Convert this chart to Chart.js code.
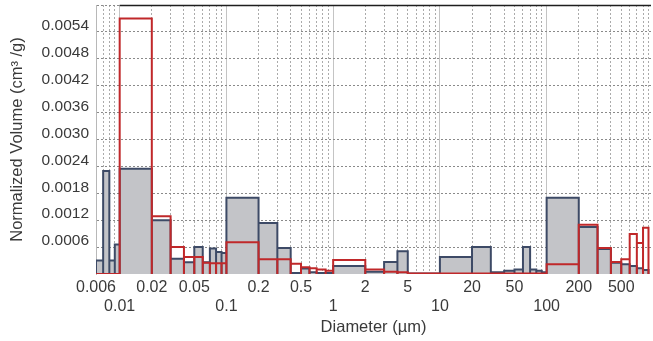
<!DOCTYPE html>
<html>
<head>
<meta charset="utf-8">
<script src="https://cdn.jsdelivr.net/npm/chart.js@4/dist/chart.umd.min.js"></script>
<style>
  html, body { margin: 0; padding: 0; background: #fff; }
  #wrap { width: 653px; height: 341px; }
</style>
</head>
<body>
<div id="wrap"><canvas id="psd" width="653" height="341"></canvas></div>
<script>
// ---- data -------------------------------------------------------------
// bin edges in µm (log spaced, 1-2-3.. per decade)
const binEdges = [
  0.006, 0.007, 0.008, 0.009,
  0.01, 0.02, 0.03, 0.04, 0.05, 0.06, 0.07, 0.08, 0.09,
  0.1, 0.2, 0.3, 0.4, 0.5, 0.6, 0.7, 0.85,
  1, 2, 3, 4, 5,
  10, 20, 30, 40, 50, 60, 70, 80, 90,
  100, 200, 300, 400, 500, 600, 700, 800, 900
];

// grey filled bars (normalized volume, cm3/g)
const greyVolume = [
  0.0003, 0.0023, 0.0003, 0.00066,
  0.00235, 0.0012, 0.00034, 0.00026, 0.0006, 0.00026, 0.00057, 0.00049, 0.00047,
  0.0017, 0.00114, 0.00058, 0.00002, 0.00012, 0.00004, 0.00002, 0.00002,
  0.00018, 0.00005, 0.00027, 0.00051,
  0.00001,
  0.00038, 0.0006, 0.00004, 0.00007, 0.0001, 0.0006, 0.0001, 0.00007, 0.00004,
  0.0017, 0.00105, 0.00056, 0.00025, 0.00022, 0.00018, 0.00013, 0.00009
];

// red outlined bars
const redVolume = [
  0, 0, 0, 0,
  0.0057, 0.00129, 0.0006, 0.00038, 0.00038, 0.00025, 0.00024, 0.00024, 0.00024,
  0.00071, 0.00033, 0.00033, 0.00023, 0.00015, 0.00013, 0.0001, 0.00007,
  0.00031, 0.0001, 0.00005, 0.00004,
  0.00001,
  0.00001, 0.00001, 0.00001, 0.00001, 0.00001, 0.00001, 0.00001, 0.00001, 0.00001,
  0.00022, 0.0011, 0.00058, 0.00027, 0.00033, 0.00089, 0.00069, 0.00103
];

// x tick labels: first row and second (decade) row
const xRowOne = ['0.006', '0.02', '0.05', '0.2', '0.5', '2', '5', '20', '50', '200', '500'];
const xRowTwo = ['0.01', '0.1', '1', '10', '100'];

// gridline positions: every 1..9 x decade inside the axis range
const decades = [0.001, 0.01, 0.1, 1, 10, 100];
const mantissas = [1, 2, 3, 4, 5, 6, 7, 8, 9];

const X_MIN = 0.006;
const X_MAX = 950;
const Y_MAX = 0.006;
const TOP_RULE_FROM = 0.01; // black top rule starts at 0.01 µm in the original

// ---- helpers ----------------------------------------------------------
function near(a, b) {
  return Math.abs(a - b) <= Math.abs(b) * 1e-6;
}

function isDecade(v) {
  const l = Math.log10(v);
  return Math.abs(l - Math.round(l)) < 1e-6;
}

// trace each bin as a closed rectangle so dividers show like the original
function histOutline(values) {
  const pts = [];
  values.forEach((v, i) => {
    const a = binEdges[i];
    const b = binEdges[i + 1];
    pts.push({ x: a, y: 0 }, { x: a, y: v }, { x: b, y: v }, { x: b, y: 0 });
  });
  return pts;
}

const gridValues = [];
decades.forEach(d => {
  mantissas.forEach(m => {
    const v = parseFloat((d * m).toPrecision(6));
    if (v >= X_MIN - 1e-9 && v <= X_MAX) gridValues.push(v);
  });
});

const fontFamily = "'Liberation Sans', Arial, sans-serif";
const textColor = '#3a3a3a';

// black rule along the top of the plot, from 0.01 µm to the right edge
const topRule = {
  id: 'topRule',
  beforeDatasetsDraw(chart) {
    const { ctx, scales } = chart;
    const y = scales.y.getPixelForValue(Y_MAX) + 0.5;
    const x0 = scales.x.getPixelForValue(TOP_RULE_FROM);
    ctx.save();
    ctx.strokeStyle = '#1e1e1e';
    ctx.lineWidth = 1.5;
    ctx.beginPath();
    ctx.moveTo(x0, y);
    ctx.lineTo(chart.chartArea.right, y);
    ctx.stroke();
    ctx.restore();
  }
};

// ---- chart ------------------------------------------------------------
const ctx = document.getElementById('psd');
new Chart(ctx, {
  type: 'line',
  data: {
    datasets: [
      {
        label: 'red',
        data: histOutline(redVolume),
        borderColor: '#c0282a',
        borderWidth: 2,
        fill: false,
        pointRadius: 0,
        tension: 0,
        order: 0
      },
      {
        label: 'grey',
        data: histOutline(greyVolume),
        borderColor: '#3d4a66',
        backgroundColor: '#c3c4c8',
        borderWidth: 2,
        fill: 'origin',
        pointRadius: 0,
        tension: 0,
        order: 1
      }
    ]
  },
  plugins: [topRule],
  options: {
    responsive: false,
    animation: false,
    layout: { padding: { top: 5, right: 2, left: 0, bottom: 0 } },
    plugins: {
      legend: { display: false },
      tooltip: { enabled: false }
    },
    scales: {
      x: {
        type: 'logarithmic',
        min: X_MIN,
        max: X_MAX,
        afterBuildTicks: s => {
          s.ticks = gridValues.map(v => ({ value: v }));
        },
        afterFit: s => {
          s.height = 67;
          s.paddingLeft = 0;
          s.paddingRight = 0;
        },
        ticks: {
          autoSkip: false,
          maxRotation: 0,
          minRotation: 0,
          padding: 4,
          color: textColor,
          font: { family: fontFamily, size: 16, lineHeight: 1.2 },
          callback: v => {
            const one = xRowOne.find(l => near(v, parseFloat(l)));
            if (one) return one;
            const two = xRowTwo.find(l => near(v, parseFloat(l)));
            if (two) return ['', two];
            return '';
          }
        },
        grid: {
          drawTicks: false,
          lineWidth: 1,
          color: c => (isDecade(c.tick.value) ? '#c4c4c4' : '#ababab')
        },
        border: {
          display: false,
          dash: c => (c.tick && isDecade(c.tick.value) ? [] : [2, 2])
        },
        title: {
          display: true,
          text: 'Diameter (µm)',
          color: textColor,
          font: { family: fontFamily, size: 16.5 },
          padding: { top: 0, bottom: 4 }
        }
      },
      y: {
        min: 0,
        max: Y_MAX,
        afterFit: s => {
          s.width = 96;
          s.paddingTop = 0;
          s.paddingBottom = 0;
        },
        ticks: {
          stepSize: 0.0006,
          padding: 7,
          labelOffset: -6,
          color: textColor,
          font: { family: fontFamily, size: 15.5 },
          callback: v => (v < 1e-9 || v > 0.00599 ? '' : v.toFixed(4))
        },
        grid: {
          drawTicks: false,
          lineWidth: 1,
          color: c => (c.tick.value < 1e-9 ? 'rgba(0,0,0,0)' : '#8a8a8a')
        },
        border: {
          display: true,
          color: '#b8b8b8',
          dash: [2, 2]
        },
        title: {
          display: true,
          text: 'Normalized Volume (cm³ /g)',
          color: textColor,
          font: { family: fontFamily, size: 16.5 },
          padding: { top: 8, bottom: 0 }
        }
      }
    }
  }
});
</script>
</body>
</html>
